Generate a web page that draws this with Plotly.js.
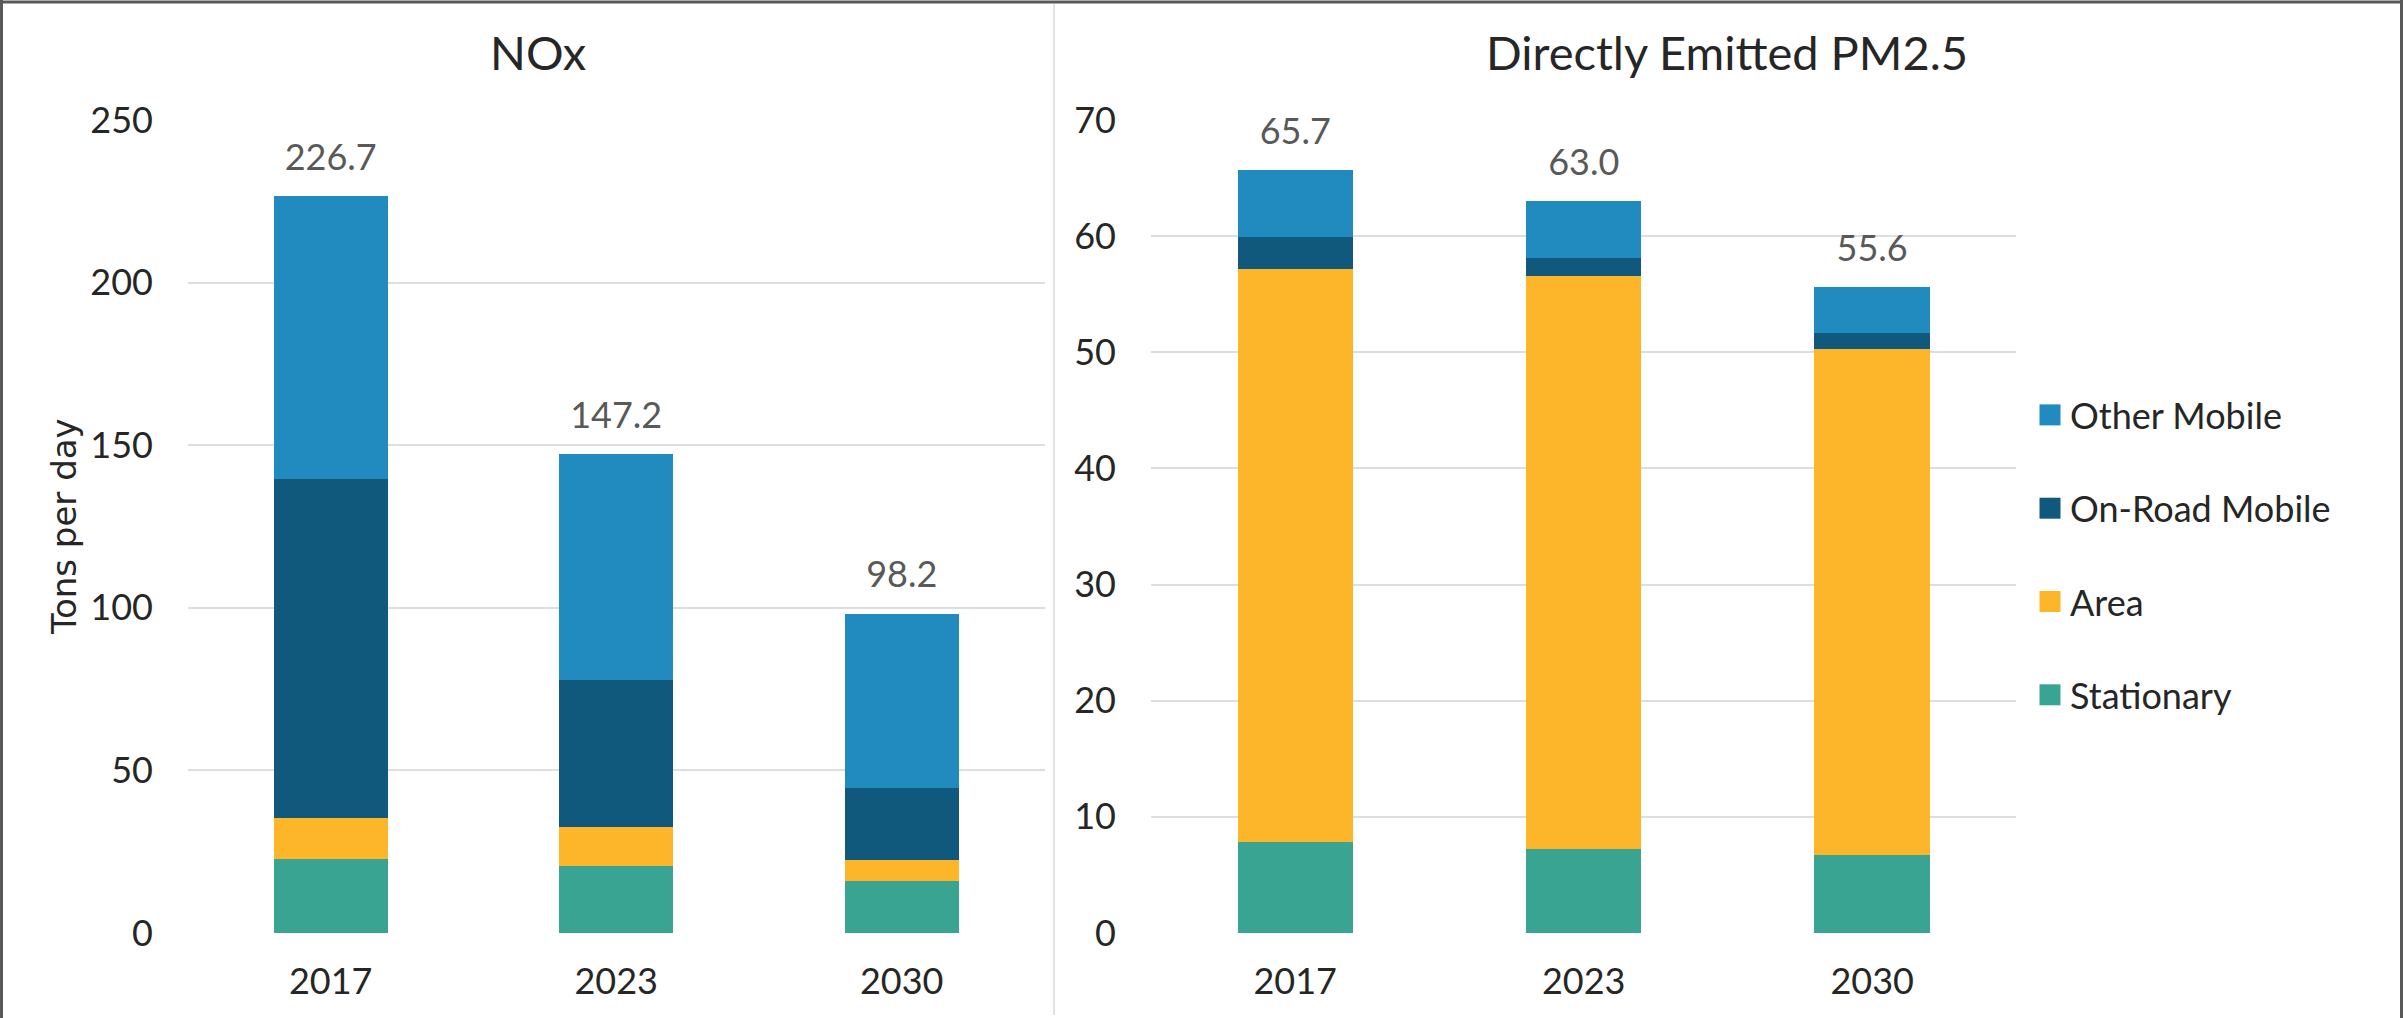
<!DOCTYPE html>
<html>
<head>
<meta charset="utf-8">
<script src="https://cdn.plot.ly/plotly-3.0.1.min.js"></script>
<style>html,body{margin:0;padding:0;background:#fff;}#chart{width:2403px;height:1018px;}</style>
</head>
<body>
<div id="chart"></div>
<script>
// ---- data ----
const years = ["2017", "2023", "2030"];
const seriesNames = ["Stationary", "Area", "On-Road Mobile", "Other Mobile"];
const seriesColors = ["#38A491", "#FDB62A", "#10597D", "#218BC0"];

const noxStationary = [22.8, 20.7, 16.1];
const noxArea       = [12.5, 11.8, 6.3];
const noxOnRoad     = [104.2, 45.4, 22.1];
const noxOther      = [87.2, 69.3, 53.7];

const pmStationary = [7.8, 7.2, 6.7];
const pmArea       = [49.4, 49.4, 43.6];
const pmOnRoad     = [2.7, 1.5, 1.4];
const pmOther      = [5.8, 4.9, 3.9];

const noxTitle = "NOx";
const pmTitle = "Directly Emitted PM2.5";
const yTitle = "Tons per day";

// ---- build ----
const FONT = "Lato, 'Open Sans', sans-serif";
const noxSeries = [noxStationary, noxArea, noxOnRoad, noxOther];
const pmSeries = [pmStationary, pmArea, pmOnRoad, pmOther];

function totals(series) {
  return years.map((_, i) => series.reduce((s, arr) => s + arr[i], 0));
}
const noxTotals = totals(noxSeries);
const pmTotals = totals(pmSeries);

const traces = [];
seriesNames.forEach((name, k) => {
  traces.push({
    type: "bar", x: years, y: noxSeries[k], name: name,
    marker: {color: seriesColors[k], line: {width: 0}},
    xaxis: "x", yaxis: "y", showlegend: false,
    hoverinfo: "x+y+name"
  });
});
seriesNames.forEach((name, k) => {
  traces.push({
    type: "bar", x: years, y: pmSeries[k], name: name,
    marker: {color: seriesColors[k], line: {width: 0}},
    xaxis: "x2", yaxis: "y2", showlegend: true, legendgroup: "g" + k,
    legendrank: 1000 + (seriesNames.length - k),
    hoverinfo: "x+y+name"
  });
});
const labelStyle = {
  type: "scatter", mode: "markers+text", textposition: "top center",
  marker: {size: 26, opacity: 0, color: "#ffffff"},
  textfont: {family: FONT, size: 36, color: "#595959"},
  showlegend: false, hoverinfo: "skip", cliponaxis: false
};
traces.push(Object.assign({}, labelStyle, {
  x: years, y: noxTotals, text: noxTotals.map(v => v.toFixed(1)), xaxis: "x", yaxis: "y"
}));
traces.push(Object.assign({}, labelStyle, {
  x: years, y: pmTotals, text: pmTotals.map(v => v.toFixed(1)), xaxis: "x2", yaxis: "y2"
}));

const W = 2403, H = 1018;
const yDom = [1 - 933 / H, 1 - 120 / H];
const axisFont = {family: FONT, size: 36, color: "#262626"};

const xBase = {
  type: "category", showgrid: false, zeroline: false, showline: false,
  ticks: "", tickfont: axisFont, ticklabelstandoff: 24, fixedrange: true
};
const yBase = {
  showgrid: true, gridcolor: "#DEDEDE", gridwidth: 2, zeroline: false,
  showline: false, ticks: "", tickfont: axisFont, ticklabelstandoff: 34,
  domain: yDom, fixedrange: true
};

const layout = {
  width: W, height: H,
  margin: {l: 0, r: 0, t: 0, b: 0},
  paper_bgcolor: "#ffffff", plot_bgcolor: "#ffffff",
  font: {family: FONT, color: "#262626"},
  barmode: "stack", bargap: 0.6,
  xaxis: Object.assign({}, xBase, {domain: [188 / W, 1044.5 / W], anchor: "y"}),
  yaxis: Object.assign({}, yBase, {range: [0, 250], dtick: 50, anchor: "x"}),
  xaxis2: Object.assign({}, xBase, {domain: [1151 / W, 2016.4 / W], anchor: "y2"}),
  yaxis2: Object.assign({}, yBase, {range: [0, 70], dtick: 10, anchor: "x2"}),
  showlegend: true,
  legend: {
    x: 2030 / W, xanchor: "left", y: 1 - 385 / H, yanchor: "top",
    traceorder: "grouped", tracegroupgap: 43.5,
    font: {family: FONT, size: 36, color: "#262626"},
    bgcolor: "rgba(0,0,0,0)", itemclick: false, itemdoubleclick: false
  },
  annotations: [
    {text: noxTitle, xref: "paper", yref: "paper", x: 538 / W, y: 1 - 52 / H,
     xanchor: "center", yanchor: "middle", showarrow: false,
     font: {family: FONT, size: 47, color: "#262626"}},
    {text: pmTitle, xref: "paper", yref: "paper", x: 1727 / W, y: 1 - 52 / H,
     xanchor: "center", yanchor: "middle", showarrow: false,
     font: {family: FONT, size: 47, color: "#262626"}},
    {text: yTitle, xref: "paper", yref: "paper", x: 64 / W, y: 1 - 527 / H,
     xanchor: "center", yanchor: "middle", textangle: -90, showarrow: false,
     font: {family: "'DejaVu Sans', sans-serif", size: 34, color: "#262626"}}
  ],
  shapes: [
    {type: "line", xref: "paper", yref: "paper", x0: 0, x1: 1, y0: 1 - 2 / H, y1: 1 - 2 / H,
     line: {color: "#595959", width: 3}},
    {type: "line", xref: "paper", yref: "paper", x0: 1.5 / W, x1: 1.5 / W, y0: 0, y1: 1,
     line: {color: "#595959", width: 3}},
    {type: "line", xref: "paper", yref: "paper", x0: 1 - 1.5 / W, x1: 1 - 1.5 / W, y0: 0, y1: 1,
     line: {color: "#595959", width: 3}},
    {type: "line", xref: "paper", yref: "paper", x0: 1054 / W, x1: 1054 / W, y0: 3 / H, y1: 1 - 4 / H,
     line: {color: "#DADADA", width: 1.5}}
  ]
};

Plotly.newPlot("chart", traces, layout, {displayModeBar: false}).then(function (gd) {
  // enlarge legend swatches to match the reference's square markers
  gd.querySelectorAll(".legend .legendpoints path").forEach(function (p) {
    p.setAttribute("transform", (p.getAttribute("transform") || "") + " scale(1.75)");
  });
});
</script>
</body>
</html>
